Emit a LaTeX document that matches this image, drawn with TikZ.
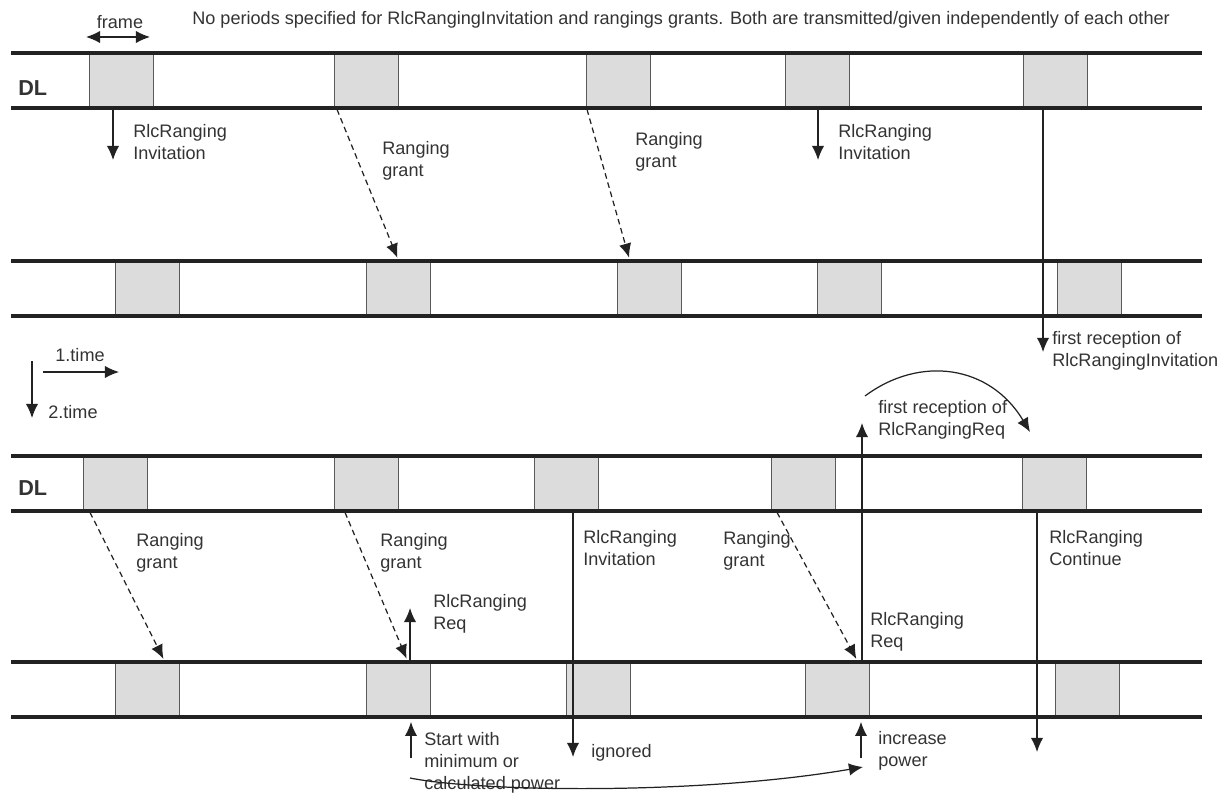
\documentclass[tikz,border=0pt]{standalone}
\usepackage{fontspec}
\setmainfont{Liberation Sans}
\usetikzlibrary{arrows.meta, calc, positioning}
\definecolor{slotgray}{RGB}{220, 220, 220}
\definecolor{ink}{RGB}{51, 51, 51}
\definecolor{edge}{RGB}{34, 34, 34}
\newcommand{\lblfont}{\fontsize{10.3pt}{12.4pt}\selectfont}

\begin{document}
\begin{tikzpicture}[
    x = 0.02cm, y = -0.02cm,
    band/.style = {line width = 2.3pt, draw = edge},
    slot/.style = {draw = black!65, fill = slotgray, line width = 0.8pt,
        minimum width = 1.28cm, minimum height = 1.1cm, inner sep = 0, anchor = north west},
    lbl/.style = {font = \lblfont, text = ink, align = left, anchor = west, inner sep = 0},
    sig/.style = {draw = edge, line width = 0.7pt, -{Latex[length = 8pt, width = 7pt]}},
    grant/.style = {sig, dash pattern = on 3.2pt off 2.2pt, shorten > = 2pt}
]
\useasboundingbox (0,0) rectangle (1224,794);

% frames of the four bands
\foreach \x [count=\i] in {89, 334, 586, 785, 1023}
    \node[slot] (dA\i) at (\x, 53) {};
\foreach \x [count=\i] in {115, 366, 617, 817, 1057}
    \node[slot] (uA\i) at (\x, 261) {};
\foreach \x [count=\i] in {83, 334, 534, 771, 1022}
    \node[slot] (dB\i) at (\x, 456) {};
\foreach \x [count=\i] in {115, 366, 566, 805, 1055}
    \node[slot] (uB\i) at (\x, 662) {};

\foreach \y in {53, 108, 261, 316, 456, 511, 662, 717}
    \draw[band] (11, \y) -- (1202, \y);

\node[lbl, font = \fontsize{12.3pt}{14pt}\bfseries\selectfont] (dlA) at (18, 88) {DL};
\node[lbl, font = \fontsize{12.3pt}{14pt}\bfseries\selectfont] (dlB) at (18, 488) {DL};

\node[lbl] (head) at (192, 20) {No periods specified for RlcRangingInvitation and rangings grants. Both are transmitted/given independently of each other};

\coordinate (fl) at (86, 37);
\coordinate (fr) at (150, 37);
\draw[sig, {Latex[length = 8pt, width = 7pt]}-{Latex[length = 8pt, width = 7pt]}] (fl) -- (fr);
\node[lbl, anchor = center] (frame) at (120, 22) {frame};

% first pass
\coordinate (invA) at (113, 160);
\draw[sig] (dA1.south -| invA) -- (invA);
\node[lbl] (invAtxt) at (133, 142) {RlcRanging\\Invitation};

\draw[grant] ($(dA2.south west)+(3,0)$) -- (uA2.north);
\node[lbl] (grA1) at (382, 161) {Ranging\\grant};

\draw[grant] ($(dA3.south west)+(1,0)$) -- ($(uA3.north west)+(13,0)$);
\node[lbl] (grA2) at (635, 152) {Ranging\\grant};

\coordinate (invB) at (818, 160);
\draw[sig] (dA4.south -| invB) -- (invB);
\node[lbl] (invBtxt) at (838, 142) {RlcRanging\\Invitation};

\coordinate (rxA) at (1043, 352);
\draw[sig] (dA5.south -| rxA) -- (rxA);
\node[lbl] (rxAtxt) at (1052, 351) {first reception of\\RlcRangingInvitation};

% time axes
\coordinate (t1a) at (43, 372);
\coordinate (t1b) at (119, 372);
\draw[sig] (t1a) -- (t1b);
\node[lbl, anchor = center] (t1) at (80, 355) {1.time};
\coordinate (t2a) at (32, 361);
\coordinate (t2b) at (32, 418);
\draw[sig] (t2a) -- (t2b);
\node[lbl] (t2) at (48, 412) {2.time};

% second pass
\draw[grant] ($(dB1.south west)+(7,0)$) -- ($(uB1.north west)+(50,0)$);
\node[lbl] (grB1) at (136, 553) {Ranging\\grant};

\draw[grant] ($(dB2.south west)+(11,0)$) -- ($(uB2.north west)+(42,0)$);
\node[lbl] (grB2) at (380, 553) {Ranging\\grant};

\coordinate (reqA) at (410, 608);
\draw[sig] (uB2.north -| reqA) -- (reqA);
\node[lbl] (reqAtxt) at (433, 614) {RlcRanging\\Req};

\coordinate (ign) at (573, 757);
\draw[sig] (dB3.south -| ign) -- (ign);
\node[lbl] (invCtxt) at (583, 548) {RlcRanging\\Invitation};
\node[lbl] (igntxt) at (591, 753) {ignored};

\draw[grant] ($(dB4.south west)+(6,0)$) -- ($(uB4.north west)+(53,0)$);
\node[lbl] (grB3) at (723, 551) {Ranging\\grant};

\coordinate (reqB) at (862, 423);
\draw[sig] (uB4.north -| reqB) -- (reqB);
\node[lbl] (reqBtxt) at (870, 632) {RlcRanging\\Req};
\node[lbl] (rxBtxt) at (878, 420) {first reception of\\RlcRangingReq};

\coordinate (cvA) at (865, 396);
\coordinate (cvB) at (1030, 432);
\draw[sig] (cvA) .. controls (920, 355) and (990, 365) .. (cvB);

\coordinate (cont) at (1037, 752);
\draw[sig] (dB5.south -| cont) -- (cont);
\node[lbl] (conttxt) at (1049, 548) {RlcRanging\\Continue};

% power steps
\coordinate (pwA) at (411, 758);
\draw[sig, shorten > = 2pt] (pwA) -- (uB2.south -| pwA);
\node[lbl] (pwAtxt) at (424, 763) {Start with\\minimum or\\calculated power};

\coordinate (pwB) at (861, 758);
\draw[sig, shorten > = 2pt] (pwB) -- (uB4.south -| pwB);
\node[lbl] (pwBtxt) at (878, 751) {increase\\power};

\coordinate (stA) at (410, 778);
\coordinate (stB) at (863, 767);
\draw[sig] (stA) .. controls (480, 792) and (700, 795) .. (stB);

\end{tikzpicture}
\end{document}
